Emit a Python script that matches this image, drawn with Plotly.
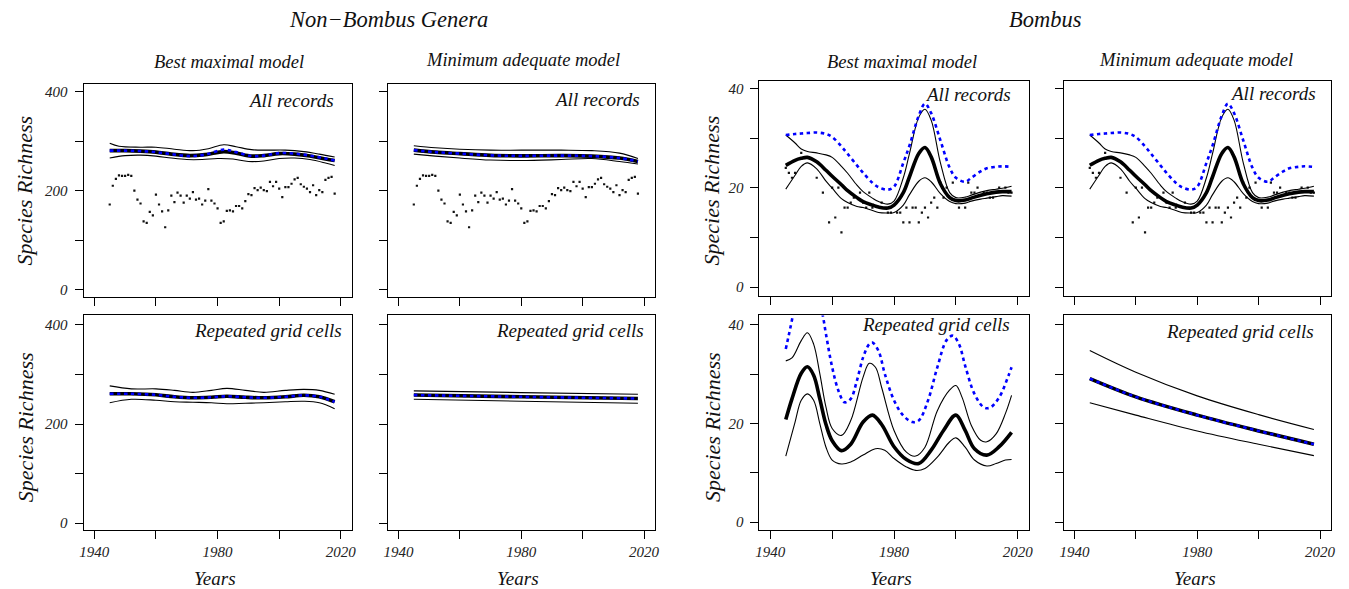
import plotly.graph_objects as go

W, H = 1349, 589

# ---------------- data ----------------
# Non-Bombus genera: observed yearly richness (all records)
NB_YEARS = list(range(1945, 2019))
NB_RICHNESS = [172, 210, 224, 231, 230, 230, 232, 230, 200, 182,
               174, 138, 135, 157, 150, 192, 172, 158, 126, 160,
               190, 177, 196, 190, 176, 190, 184, 197, 182, 184,
               172, 180, 203, 180, 174, 164, 135,
               138, 159, 160, 158, 169, 169, 164, 179, 193, 191,
               205, 201, 206, 201, 199, 218, 209, 218, 204, 187,
               207, 207, 214, 223, 226, 213, 208, 204, 197, 211,
               191, 201, 197, 222, 226, 228, 194]

# Bombus: observed yearly richness (all records)
B_YEARS = [1945, 1946, 1947, 1948, 1950, 1955, 1957, 1959, 1960, 1961,
           1962, 1963, 1964, 1965, 1966, 1967, 1969, 1970, 1971, 1972,
           1973, 1976, 1978, 1979, 1981, 1982, 1983, 1984, 1985, 1986,
           1987, 1988, 1989, 1990, 1991, 1992, 1993, 1994, 1995, 1996,
           1997, 1999, 2001, 2003, 2004, 2005, 2006, 2007, 2009, 2010,
           2011, 2012, 2014, 2016, 2017, 2018]
B_RICHNESS = [24, 23, 22, 23, 27, 22, 19, 13, 20, 14,
              20, 11, 16, 16, 17, 18, 19, 17, 16, 19,
              16, 17, 15, 15, 15, 15, 13, 16, 13, 16,
              16, 13, 15, 16, 14, 17, 18, 16, 21, 18,
              20, 21, 16, 16, 21, 19, 19, 20, 19, 19,
              18, 18, 20, 20, 19, 19]

# --- Non-Bombus, all records, best maximal model ---
NBA_MAX_MEAN_YEARS = [1945, 1950, 1955, 1960, 1965, 1971, 1976, 1982, 1986, 1991, 1995, 2000, 2005, 2010, 2015, 2018]
NBA_MAX_MEAN = [281, 281, 280, 278, 274, 271, 273, 279, 276, 270, 271, 275, 274, 270, 264, 261]
NBA_MAX_BLUE = [281, 281, 280, 278, 274, 270, 273, 283, 278, 270, 271, 276, 275, 271, 265, 261]
NBA_MAX_UP_YEARS = [1945, 1948, 1955, 1960, 1966, 1972, 1977, 1982, 1986, 1991, 1996, 2002, 2008, 2013, 2018]
NBA_MAX_UP = [296, 290, 288, 288, 284, 281, 285, 293, 289, 283, 282, 282, 279, 274, 268]
NBA_MAX_LO_YEARS = [1945, 1950, 1955, 1960, 1965, 1970, 1975, 1980, 1985, 1990, 1995, 2000, 2005, 2010, 2015, 2018]
NBA_MAX_LO = [266, 271, 272, 270, 266, 263, 263, 265, 264, 259, 260, 265, 266, 263, 256, 251]

# --- Non-Bombus, all records, minimum adequate model ---
NBA_MIN_YEARS = [1945, 1952, 1960, 1970, 1980, 1993, 2003, 2012, 2018]
NBA_MIN_MEAN = [282, 278, 275, 271.5, 270.5, 271, 270, 266, 259]
NBA_MIN_UP = [291, 287, 284, 282, 282, 282, 281, 276, 265]
NBA_MIN_LO = [274, 270, 266, 262, 261, 263, 265, 259, 254]

# --- Non-Bombus, repeated grid cells, best maximal model ---
NBR_MAX_YEARS = [1945, 1952, 1960, 1966, 1972, 1978, 1983, 1989, 1995, 2002, 2008, 2013, 2018]
NBR_MAX_MEAN = [261, 261, 259, 255, 253, 254, 256, 254, 253, 255, 258, 255, 245]
NBR_MAX_UP = [277, 271, 271, 268, 264, 268, 272, 268, 264, 268, 270, 268, 260]
NBR_MAX_LO = [243, 250, 248, 245, 244, 243, 241, 242, 243, 245, 246, 243, 231]

# --- Non-Bombus, repeated grid cells, minimum adequate model ---
NBR_MIN_YEARS = [1945, 1980, 2018]
NBR_MIN_MEAN = [258.5, 255, 251.5]
NBR_MIN_UP = [267, 263.5, 260]
NBR_MIN_LO = [250, 246, 242]

# --- Bombus, all records (best maximal and minimum adequate look identical) ---
BA_YEARS = [1945, 1948, 1950, 1952, 1955, 1958, 1960, 1963, 1965, 1968,
            1970, 1973, 1975, 1978, 1980, 1983, 1985, 1988, 1990, 1992,
            1995, 1998, 2000, 2003, 2005, 2008, 2010, 2013, 2015, 2018]
BA_MEAN = [24.5, 25.5, 25.9, 26.1, 25.2, 23.5, 22.3, 20.6, 19.4, 18.0,
           17.2, 16.5, 16.1, 15.9, 16.5, 19.0, 22.2, 26.9, 28.1, 26.2,
           20.8, 18.0, 17.4, 17.5, 17.9, 18.5, 18.8, 19.1, 19.2, 19.2]
BA_UP = [30.6, 29.0, 27.8, 27.3, 27.0, 26.6, 26.1, 24.3, 22.9, 20.5,
         19.2, 17.9, 17.2, 16.7, 17.3, 22.0, 26.9, 34.2, 35.8, 33.6,
         25.0, 19.0, 18.0, 18.1, 18.5, 19.1, 19.4, 19.7, 19.9, 20.3]
BA_LO = [19.7, 22.5, 24.3, 25.0, 23.8, 21.3, 19.9, 17.8, 17.0, 16.2,
         16.0, 15.4, 15.0, 14.9, 15.0, 16.5, 18.6, 21.3, 22.0, 21.2,
         18.8, 17.2, 16.8, 16.9, 17.3, 17.7, 17.9, 18.2, 18.4, 18.3]
BA_BLUE = [30.6, 30.8, 30.9, 31.0, 31.1, 30.8, 30.2, 28.3, 26.8, 24.5,
           23.0, 21.0, 20.1, 19.6, 20.2, 25.0, 28.5, 34.5, 36.9, 35.0,
           29.5, 24.0, 22.0, 21.2, 22.0, 23.3, 23.9, 24.2, 24.3, 24.2]

# --- Bombus, repeated grid cells, best maximal model ---
BR_MAX_MEAN_YEARS = [1945, 1947, 1950, 1952, 1954, 1956, 1958, 1960, 1963, 1966, 1970, 1973,
                     1976, 1980, 1984, 1988, 1992, 1996, 2000, 2003, 2006, 2010, 2014, 2018]
BR_MAX_MEAN = [20.8, 25.0, 30.2, 31.5, 29.8, 25.0, 19.8, 16.5, 14.5, 15.8, 20.3, 21.7,
               19.8, 15.3, 12.7, 11.9, 14.6, 18.6, 21.7, 18.6, 14.9, 13.6, 15.3, 18.2]
BR_MAX_UP_YEARS = [1945, 1947, 1950, 1952, 1954, 1956, 1958, 1960, 1963, 1966, 1970, 1972, 1974, 1976,
                   1980, 1984, 1987, 1990, 1994, 1998, 2000, 2002, 2005, 2008, 2010, 2013, 2016, 2018]
BR_MAX_UP = [32.7, 33.3, 36.8, 38.4, 36.1, 30.1, 23.3, 19.0, 17.6, 20.6, 29.4, 32.2, 31.4, 27.3,
             18.6, 14.2, 13.4, 15.2, 22.6, 26.8, 27.7, 25.3, 19.6, 16.6, 16.3, 17.9, 22.0, 25.7]
BR_MAX_LO_YEARS = [1945, 1948, 1950, 1952, 1954, 1956, 1958, 1960, 1963, 1966, 1970, 1974, 1977,
                   1980, 1984, 1987, 1990, 1994, 1998, 2000, 2003, 2006, 2010, 2013, 2016, 2018]
BR_MAX_LO = [13.4, 20.3, 24.7, 26.0, 24.7, 20.0, 15.2, 12.6, 11.8, 12.2, 13.6, 14.9, 14.6,
             12.9, 11.2, 10.5, 10.9, 13.2, 16.3, 17.1, 15.2, 12.6, 11.4, 11.9, 12.6, 12.7]
BR_MAX_BLUE_YEARS = [1945, 1946, 1947, 1948, 1950, 1952, 1954, 1956, 1957, 1958, 1960, 1962, 1964,
                     1966, 1968, 1970, 1972, 1973, 1975, 1977, 1980, 1983, 1986, 1988, 1991, 1994,
                     1997, 1999, 2001, 2003, 2006, 2009, 2011, 2014, 2017, 2018]
BR_MAX_BLUE = [35.1, 38.0, 41.0, 44.5, 49.5, 51.5, 49.5, 44.5, 41.8, 38.1, 31.4, 26.7, 24.3,
               25.0, 28.7, 33.4, 36.1, 36.4, 34.7, 30.1, 24.7, 21.6, 20.3, 20.6, 24.7, 31.4,
               36.9, 37.8, 36.1, 31.7, 26.0, 23.3, 23.2, 25.3, 29.7, 31.4]

# --- Bombus, repeated grid cells, minimum adequate model ---
BR_MIN_YEARS = [1945, 1960, 1980, 2000, 2018]
BR_MIN_MEAN = [29.1, 25.4, 21.7, 18.5, 15.8]
BR_MIN_UP = [34.8, 30.4, 25.6, 21.8, 18.8]
BR_MIN_LO = [24.2, 21.7, 18.5, 15.8, 13.5]

# tick labels
X_TICKS = [1940, 1960, 1980, 2000, 2020]
X_TICKTEXT = ["1940", "", "1980", "", "2020"]
NB_YTICKS = [0, 100, 200, 300, 400]
NB_YTICKTEXT = ["0", "", "200", "", "400"]
B_YTICKS = [0, 10, 20, 30, 40]
B_YTICKTEXT = ["0", "", "20", "", "40"]

# ---------------- layout helpers ----------------
SERIF = "Liberation Serif, Times New Roman, serif"


def px_x(p):
    return p / W


def px_y(p):
    return 1 - p / H


fig = go.Figure()

# panel boxes in pixels
COLS = [(80, 350), (386, 655), (760, 1031), (1066, 1335)]
ROW_TOP = {0: (84, 298), 1: (84, 298), 2: (81, 297), 3: (81, 297)}
ROW_BOT = (316, 531)

panels = [(r, c) for r in range(2) for c in range(4)]

Y_RANGES = {
    (0, 0): [-16.2, 416.2], (0, 1): [-16.2, 416.2],
    (1, 0): [-14.1, 419.2], (1, 1): [-14.1, 419.2],
    (0, 2): [-1.9, 41.5], (0, 3): [-1.9, 41.5],
    (1, 2): [-1.6, 41.9], (1, 3): [-1.6, 41.9],
}

TICKFONT = dict(family=SERIF, size=15, color="#222", style="italic")

for i, (r, c) in enumerate(panels):
    n = i + 1
    xl, xr = COLS[c]
    yt, yb = ROW_TOP[c] if r == 0 else ROW_BOT
    xa = "xaxis" if n == 1 else f"xaxis{n}"
    ya = "yaxis" if n == 1 else f"yaxis{n}"
    anchor_x = "y" if n == 1 else f"y{n}"
    anchor_y = "x" if n == 1 else f"x{n}"
    nb = c < 2
    fig.layout[xa] = dict(
        domain=[px_x(xl), px_x(xr)], anchor=anchor_x, range=[1936.5, 2023.6],
        showline=True, mirror=True, linecolor="black", linewidth=1,
        ticks="outside", ticklen=8, tickwidth=1, tickcolor="black",
        tickvals=X_TICKS, ticktext=X_TICKTEXT, showticklabels=(r == 1),
        showgrid=False, zeroline=False, tickfont=TICKFONT,
    )
    fig.layout[ya] = dict(
        domain=[px_y(yb), px_y(yt)], anchor=anchor_y, range=Y_RANGES[(r, c)],
        showline=True, mirror=True, linecolor="black", linewidth=1,
        ticks="outside", ticklen=8, tickwidth=1, tickcolor="black",
        tickvals=NB_YTICKS if nb else B_YTICKS,
        ticktext=NB_YTICKTEXT if nb else B_YTICKTEXT,
        showticklabels=(c % 2 == 0), ticklabelstandoff=4,
        showgrid=False, zeroline=False, tickfont=TICKFONT,
    )


def axes(n):
    return ("x" if n == 1 else f"x{n}", "y" if n == 1 else f"y{n}")


def add_points(n, xs, ys):
    xa, ya = axes(n)
    fig.add_trace(go.Scatter(x=xs, y=ys, mode="markers", xaxis=xa, yaxis=ya,
                             marker=dict(size=2.2, color="#111", symbol="square",
                                         line=dict(width=0)),
                             showlegend=False, hoverinfo="skip"))


def add_line(n, xs, ys, kind):
    xa, ya = axes(n)
    if kind == "thin":
        line = dict(color="black", width=1.1, shape="spline", smoothing=1.0)
    elif kind == "thick":
        line = dict(color="black", width=3.6, shape="spline", smoothing=1.0)
    else:
        line = dict(color="#0000FF", width=2.6, dash="3.5px,3.5px", shape="spline", smoothing=1.0)
    fig.add_trace(go.Scatter(x=xs, y=ys, mode="lines", xaxis=xa, yaxis=ya,
                             line=line, showlegend=False, hoverinfo="skip"))


# Panel 1: Non-Bombus, all records, best maximal
add_points(1, NB_YEARS, NB_RICHNESS)
add_line(1, NBA_MAX_UP_YEARS, NBA_MAX_UP, "thin")
add_line(1, NBA_MAX_LO_YEARS, NBA_MAX_LO, "thin")
add_line(1, NBA_MAX_MEAN_YEARS, NBA_MAX_MEAN, "thick")
add_line(1, NBA_MAX_MEAN_YEARS, NBA_MAX_BLUE, "blue")

# Panel 2: Non-Bombus, all records, minimum adequate
add_points(2, NB_YEARS, NB_RICHNESS)
add_line(2, NBA_MIN_YEARS, NBA_MIN_UP, "thin")
add_line(2, NBA_MIN_YEARS, NBA_MIN_LO, "thin")
add_line(2, NBA_MIN_YEARS, NBA_MIN_MEAN, "thick")
add_line(2, NBA_MIN_YEARS, NBA_MIN_MEAN, "blue")

# Panels 3 and 4: Bombus, all records
for n in (3, 4):
    add_points(n, B_YEARS, B_RICHNESS)
    add_line(n, BA_YEARS, BA_UP, "thin")
    add_line(n, BA_YEARS, BA_LO, "thin")
    add_line(n, BA_YEARS, BA_MEAN, "thick")
    add_line(n, BA_YEARS, BA_BLUE, "blue")

# Panel 5: Non-Bombus, repeated grid cells, best maximal
add_line(5, NBR_MAX_YEARS, NBR_MAX_UP, "thin")
add_line(5, NBR_MAX_YEARS, NBR_MAX_LO, "thin")
add_line(5, NBR_MAX_YEARS, NBR_MAX_MEAN, "thick")
add_line(5, NBR_MAX_YEARS, NBR_MAX_MEAN, "blue")

# Panel 6: Non-Bombus, repeated grid cells, minimum adequate
add_line(6, NBR_MIN_YEARS, NBR_MIN_UP, "thin")
add_line(6, NBR_MIN_YEARS, NBR_MIN_LO, "thin")
add_line(6, NBR_MIN_YEARS, NBR_MIN_MEAN, "thick")
add_line(6, NBR_MIN_YEARS, NBR_MIN_MEAN, "blue")

# Panel 7: Bombus, repeated grid cells, best maximal
add_line(7, BR_MAX_UP_YEARS, BR_MAX_UP, "thin")
add_line(7, BR_MAX_LO_YEARS, BR_MAX_LO, "thin")
add_line(7, BR_MAX_MEAN_YEARS, BR_MAX_MEAN, "thick")
add_line(7, BR_MAX_BLUE_YEARS, BR_MAX_BLUE, "blue")

# Panel 8: Bombus, repeated grid cells, minimum adequate
add_line(8, BR_MIN_YEARS, BR_MIN_UP, "thin")
add_line(8, BR_MIN_YEARS, BR_MIN_LO, "thin")
add_line(8, BR_MIN_YEARS, BR_MIN_MEAN, "thick")
add_line(8, BR_MIN_YEARS, BR_MIN_MEAN, "blue")

# ---------------- annotations ----------------
ann = []


def text(t, x, y, size, xanchor="center", angle=0, color="#111"):
    ann.append(dict(text=t, x=px_x(x), y=px_y(y), xref="paper", yref="paper",
                    xanchor=xanchor, yanchor="middle", showarrow=False, textangle=angle,
                    font=dict(family=SERIF, size=size, color=color, style="italic")))


text("Non\u2212Bombus Genera", 387, 20, 22.5)
text("Bombus", 1048, 20, 22.5)
text("Best maximal model", 226, 62, 18.5)
text("Minimum adequate model", 522, 60, 18.5)
text("Best maximal model", 903, 62, 18.5)
text("Minimum adequate model", 1199, 60, 18.5)

text("All records", 334, 101, 19, xanchor="right")
text("All records", 642, 100, 19, xanchor="right")
text("All records", 1015, 95, 19, xanchor="right")
text("All records", 1322, 94, 19, xanchor="right")
text("Repeated grid cells", 342, 331, 19, xanchor="right")
text("Repeated grid cells", 646, 331, 19, xanchor="right")
text("Repeated grid cells", 1014, 325, 19, xanchor="right")
text("Repeated grid cells", 1320, 332, 19, xanchor="right")

for yy in (191, 428):
    text("Species Richness", 21, yy, 22, angle=-90)
    text("Species Richness", 712, yy, 22, angle=-90)

for xx in (212, 517, 892, 1198):
    text("Years", xx, 579, 19)

fig.update_layout(
    width=W, height=H, margin=dict(l=0, r=0, t=0, b=0),
    paper_bgcolor="white", plot_bgcolor="white",
    annotations=ann, showlegend=False,
)

fig.write_html("out.html",
               config={"displayModeBar": False, "staticPlot": True},
               post_script="document.body.style.margin='0px';document.body.style.overflow='hidden';")
